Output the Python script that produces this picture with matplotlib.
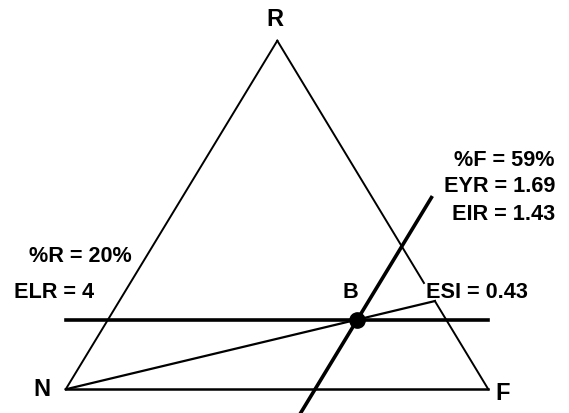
import numpy as np
import matplotlib
matplotlib.use("Agg")
import matplotlib.pyplot as plt

# emergy ternary diagram values
pct_R = 20      # %R
pct_F = 59      # %F
index_names = ["EYR", "EIR"]
index_vals = ["1.69", "1.43"]
elr = "4"
esi = "0.43"
corner_names = ["N", "R", "F"]

# triangle corners in pixel space (layout)
N = np.array([65.7, 389.3])
R = np.array([277.3, 40.7])
F = np.array([488.3, 389.3])


def tern(r, f):
    """ternary (r, f, n=1-r-f) -> picture coords"""
    n = 1 - r - f
    return n*N + r*R + f*F


r = pct_R/100.
f = pct_F/100.
B = tern(r, f)
# point on the R-F side, on the line from N through B
esi_pt = tern(r/(r+f), f/(r+f))

fig = plt.figure(figsize=(5.69, 4.13), dpi=100)
ax = fig.add_axes([0, 0, 1, 1])
ax.set_xlim(0, 569)
ax.set_ylim(413, 0)
ax.axis("off")

lw = 1.4
# triangle sides (right side broken at the ESI label)
ax.plot([N[0], R[0]], [N[1], R[1]], color="black", lw=lw)
top = tern(0.305, 0.695)
ax.plot([R[0], top[0]], [R[1], top[1]], color="black", lw=lw)
ax.plot([esi_pt[0], F[0]], [esi_pt[1], F[1]], color="black", lw=lw)
ax.plot([N[0], F[0]], [N[1], F[1]], color="black", lw=1.8)

# constant %R line
ax.plot([N[0], F[0]], [B[1], B[1]], color="black", lw=2.6)
# constant %F line
a = tern(0.55, f)
b = tern(-0.075, f)
ax.plot([a[0], b[0]], [a[1], b[1]], color="black", lw=2.6)
# line from N through B to the R-F side
ax.plot([N[0], esi_pt[0]], [N[1], esi_pt[1]], color="black", lw=1.6)

ax.plot(B[0], B[1], "o", color="black", ms=11)

font = dict(family=["Liberation Sans", "DejaVu Sans"], weight="bold")
big = 17
small = 15.6

ax.text(R[0]-2, 20, corner_names[1], fontsize=big, ha="center", va="center", **font)
ax.text(42, 390, corner_names[0], fontsize=big, ha="center", va="center", **font)
ax.text(503, 393, corner_names[2], fontsize=big, ha="center", va="center", **font)

ax.text(350, 292, "B", fontsize=small, ha="center", va="center", **font)
ax.text(426, 293, "ESI = " + esi, fontsize=small, ha="left", va="center", **font)
ax.text(29, 257, "%%R = %d%%" % pct_R, fontsize=small, ha="left", va="center", **font)
ax.text(14, 292, "ELR = " + elr, fontsize=small, ha="left", va="center", **font)

ax.text(555, 161, "%%F = %d%%" % pct_F, fontsize=small, ha="right", va="center", **font)
ys = [187, 215]
for i in range(len(index_names)):
    ax.text(555, ys[i], index_names[i] + " = " + index_vals[i], fontsize=small,
            ha="right", va="center", **font)

fig.savefig("out.png", dpi=100)
